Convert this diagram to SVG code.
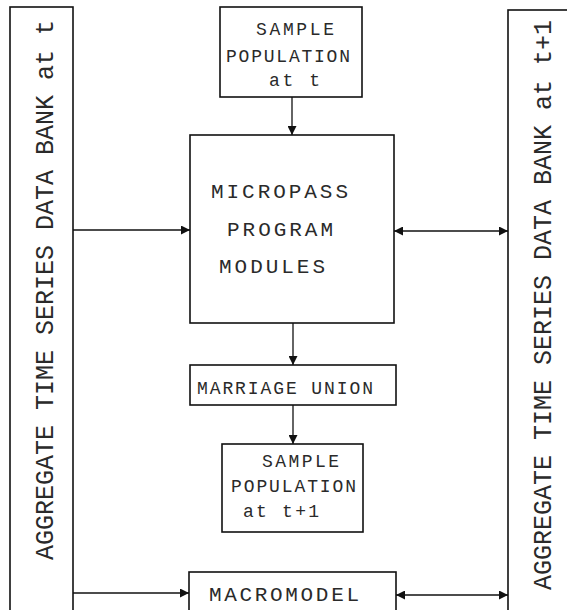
<svg xmlns="http://www.w3.org/2000/svg" width="567" height="610" viewBox="0 0 567 610">
<style>
.box{fill:#fff;stroke:#111;stroke-width:1.6}
.t{font-family:"Liberation Mono","DejaVu Sans Mono",monospace;fill:#2a2a2a}
.s{font-size:18px}
.m{font-size:21px}
.v{font-size:25px}
.c{stroke:#111;stroke-width:1.3;fill:none}
</style>
<defs>
<marker id="ah" viewBox="0 0 10 10" refX="10" refY="5" markerWidth="9" markerHeight="9" markerUnits="userSpaceOnUse" orient="auto-start-reverse">
<path d="M0,0 L10,5 L0,10 z" fill="#111"/>
</marker>
</defs>
<g id="bank-t">
<rect class="box" x="10" y="7" width="63" height="615"/>
<text class="t v" transform="translate(53,560) rotate(-90)" textLength="540" lengthAdjust="spacing">AGGREGATE TIME SERIES DATA BANK at t</text>
</g>
<g id="bank-t1">
<rect class="box" x="508" y="10" width="70" height="615"/>
<text class="t v" transform="translate(551,590) rotate(-90)" textLength="570" lengthAdjust="spacing">AGGREGATE TIME SERIES DATA BANK at t+1</text>
</g>
<g id="sample-t">
<rect class="box" x="220" y="7" width="142" height="90"/>
<text class="t s" x="256" y="35" textLength="78" lengthAdjust="spacing">SAMPLE</text>
<text class="t s" x="226" y="62" textLength="124" lengthAdjust="spacing">POPULATION</text>
<text class="t s" x="269" y="86" textLength="51" lengthAdjust="spacing">at t</text>
</g>
<g id="micropass">
<rect class="box" x="190" y="135" width="204" height="188"/>
<text class="t m" x="211" y="198" textLength="137" lengthAdjust="spacing">MICROPASS</text>
<text class="t m" x="227" y="236" textLength="106" lengthAdjust="spacing">PROGRAM</text>
<text class="t m" x="219" y="273" textLength="106" lengthAdjust="spacing">MODULES</text>
</g>
<g id="marriage">
<rect class="box" x="190" y="365" width="206" height="40"/>
<text class="t s" x="197" y="394" textLength="176" lengthAdjust="spacing">MARRIAGE UNION</text>
</g>
<g id="sample-t1">
<rect class="box" x="222" y="444" width="141" height="88"/>
<text class="t s" x="262" y="467" textLength="77" lengthAdjust="spacing">SAMPLE</text>
<text class="t s" x="231" y="492" textLength="125" lengthAdjust="spacing">POPULATION</text>
<text class="t s" x="243" y="517" textLength="76" lengthAdjust="spacing">at t+1</text>
</g>
<g id="macromodel">
<rect class="box" x="189" y="572" width="207" height="50"/>
<text class="t m" x="209" y="601" textLength="150" lengthAdjust="spacing">MACROMODEL</text>
</g>
<g id="connectors">
<line class="c" x1="292" y1="97" x2="292" y2="135" marker-end="url(#ah)"/>
<line class="c" x1="73" y1="230" x2="190" y2="230" marker-end="url(#ah)"/>
<line class="c" x1="394" y1="231" x2="508" y2="231" marker-start="url(#ah)" marker-end="url(#ah)"/>
<line class="c" x1="293" y1="323" x2="293" y2="365" marker-end="url(#ah)"/>
<line class="c" x1="293" y1="405" x2="293" y2="444" marker-end="url(#ah)"/>
<line class="c" x1="73" y1="593" x2="189" y2="593" marker-end="url(#ah)"/>
<line class="c" x1="396" y1="595" x2="508" y2="595" marker-start="url(#ah)" marker-end="url(#ah)"/>
</g>
</svg>
